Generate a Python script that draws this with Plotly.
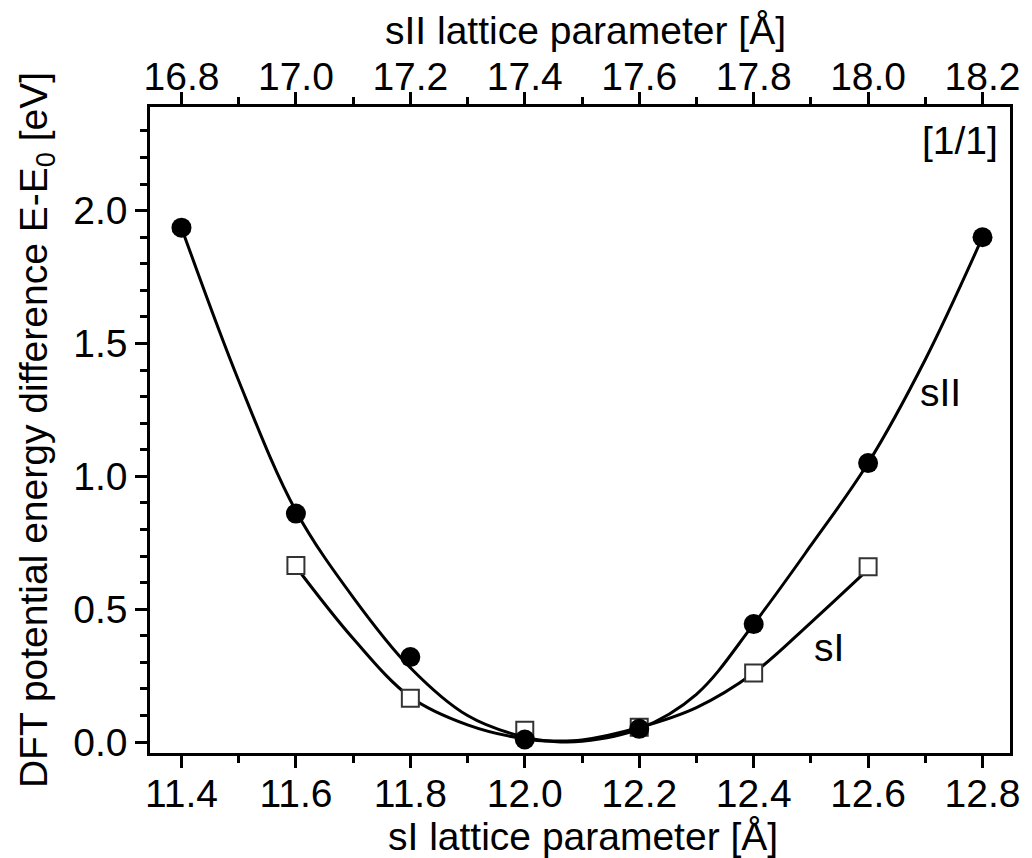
import plotly.graph_objects as go

# ---- data ----
sI_x = [11.6, 11.8, 12.0, 12.2, 12.4, 12.6]
sI_y = [0.665, 0.165, 0.045, 0.056, 0.26, 0.66]

sII_x = [16.8, 17.0, 17.2, 17.4, 17.6, 17.8, 18.0, 18.2]
sII_y = [1.936, 0.86, 0.32, 0.01, 0.05, 0.444, 1.05, 1.90]

# fitted curves
sI_fit_x = [11.6, 11.7, 11.8, 11.9, 12.0, 12.05, 12.1, 12.2, 12.3, 12.4, 12.5, 12.6]
sI_fit_y = [0.66, 0.39, 0.17, 0.065, 0.012, 0.004, 0.008, 0.055, 0.13, 0.26, 0.45, 0.65]

sII_fit_x = [16.8, 16.9, 17.0, 17.1, 17.2, 17.3, 17.4, 17.45, 17.5, 17.6, 17.7, 17.8, 17.9, 18.0, 18.1, 18.2]
sII_fit_y = [1.936, 1.36, 0.87, 0.545, 0.28, 0.10, 0.018, 0.002, 0.003, 0.05, 0.18, 0.444, 0.74, 1.05, 1.44, 1.90]

x_ticks = [11.4, 11.6, 11.8, 12.0, 12.2, 12.4, 12.6, 12.8]
x2_ticks = [16.8, 17.0, 17.2, 17.4, 17.6, 17.8, 18.0, 18.2]
y_ticks = [0.0, 0.5, 1.0, 1.5, 2.0]

x_range = [11.345, 12.848]
offset = 5.4
x2_range = [x_range[0] + offset, x_range[1] + offset]
y_range = [-0.041, 2.39]

FONT = "Liberation Sans, Arial, sans-serif"
TICK_SIZE = 39
TITLE_SIZE = 39

fig = go.Figure()

# curves
fig.add_trace(go.Scatter(x=sII_fit_x, y=sII_fit_y, xaxis="x2", mode="lines",
                         line=dict(color="black", width=3, shape="spline"),
                         showlegend=False, hoverinfo="skip"))
fig.add_trace(go.Scatter(x=sI_fit_x, y=sI_fit_y, mode="lines",
                         line=dict(color="black", width=3, shape="spline"),
                         showlegend=False, hoverinfo="skip"))
# markers
fig.add_trace(go.Scatter(x=sII_x, y=sII_y, xaxis="x2", mode="markers",
                         marker=dict(symbol="circle", size=20, color="black"),
                         name="sII", showlegend=False))
fig.add_trace(go.Scatter(x=sI_x, y=sI_y, mode="markers",
                         marker=dict(symbol="square", size=17, color="white",
                                     line=dict(color="#333333", width=2)),
                         name="sI", showlegend=False))

axis_common = dict(showline=True, linecolor="black", linewidth=2.5,
                   ticks="outside", ticklen=12, tickwidth=2.5, tickcolor="black",
                   showgrid=False, zeroline=False,
                   tickfont=dict(family=FONT, size=TICK_SIZE, color="black"))

fig.update_layout(
    width=1032, height=858,
    margin=dict(l=150, r=14, t=107, b=105),
    paper_bgcolor="white", plot_bgcolor="white",
    xaxis=dict(range=x_range, tickvals=x_ticks, ticktext=[f"{v:.1f}" for v in x_ticks],
               ticklabelstandoff=-8,
               minor=dict(dtick=0.1, tick0=11.4, ticks="outside", ticklen=7, tickwidth=2.5,
                          tickcolor="black", showgrid=False),
               **axis_common),
    xaxis2=dict(range=x2_range, overlaying="x", side="top", anchor="y",
                tickvals=x2_ticks, ticktext=[f"{v:.1f}" for v in x2_ticks],
                ticklabelstandoff=-13,
                minor=dict(dtick=0.1, tick0=16.8, ticks="outside", ticklen=7, tickwidth=2.5,
                           tickcolor="black", showgrid=False),
                **axis_common),
    yaxis=dict(range=y_range, tickvals=y_ticks, ticktext=[f"{v:.1f}" for v in y_ticks],
               mirror=True,
               minor=dict(dtick=0.1, tick0=0, ticks="outside", ticklen=7, tickwidth=2.5,
                          tickcolor="black", showgrid=False),
               **axis_common),
    showlegend=False,
)

fig.add_annotation(text="sI lattice parameter [Å]", xref="paper", yref="paper",
                   x=0.5035, y=-0.129, xanchor="center", yanchor="middle", showarrow=False,
                   font=dict(family=FONT, size=TITLE_SIZE, color="black"))
fig.add_annotation(text="sII lattice parameter [Å]", xref="paper", yref="paper",
                   x=0.506, y=1.118, xanchor="center", yanchor="middle", showarrow=False,
                   font=dict(family=FONT, size=TITLE_SIZE, color="black"))
fig.add_annotation(text="DFT potential energy difference E-E<sub>0</sub> [eV]",
                   xref="paper", yref="paper", x=-0.1325, y=0.5, textangle=-90,
                   xanchor="center", yanchor="middle", showarrow=False,
                   font=dict(family=FONT, size=TITLE_SIZE, color="black"))

fig.add_annotation(text="sII", x=12.727, y=1.316, xref="x", yref="y", showarrow=False,
                   font=dict(family=FONT, size=TICK_SIZE, color="black"))
fig.add_annotation(text="sI", x=12.532, y=0.357, xref="x", yref="y", showarrow=False,
                   font=dict(family=FONT, size=TICK_SIZE, color="black"))
fig.add_annotation(text="[1/1]", x=12.831, y=2.263, xref="x", yref="y", showarrow=False,
                   xanchor="right", yanchor="middle",
                   font=dict(family=FONT, size=TICK_SIZE, color="black"))

fig.write_html("out.html")
